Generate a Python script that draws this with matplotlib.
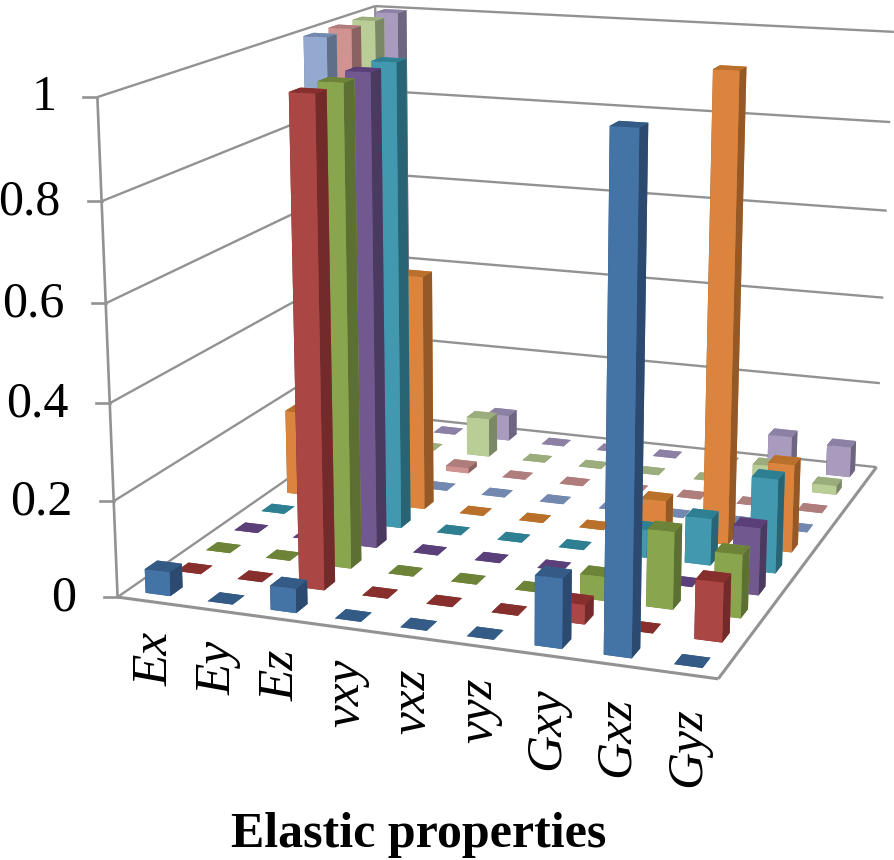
import numpy as np
import matplotlib
matplotlib.use("Agg")
import matplotlib.pyplot as plt
from matplotlib.lines import Line2D
from mpl_toolkits.mplot3d import Axes3D  # noqa
from mpl_toolkits.mplot3d.art3d import Line3DCollection

W_PX, H_PX = 895, 860

categories = ["Ex", "Ey", "Ez", "vxy", "vxz", "vyz", "Gxy", "Gxz", "Gyz"]
z_ticks = [0, 0.2, 0.4, 0.6, 0.8, 1]
z_tick_labels = ["0", "0.2", "0.4", "0.6", "0.8", "1"]
x_title = "Elastic properties"

# one list per series, front row to back row
s_blue = [0.05, 0, 0.05, 0, 0, 0, 0.14, 1.0, 0]
s_red = [0, 0, 1.0, 0, 0, 0, 0.04, 0, 0.12]
s_green = [0, 0, 1.0, 0, 0, 0, 0.05, 0.16, 0.13]
s_purple = [0, 0, 1.0, 0, 0, 0, 0, 0, 0.14]
s_teal = [0, 0, 1.0, 0, 0, 0, 0.06, 0.1, 0.2]
s_orange = [0.19, 0, 0.52, 0, 0, 0, 0.08, 1.0, 0.19]
s_lblue = [1.0, 0, 0, 0, 0, 0, 0, 0, 0]
s_pink = [1.0, 0, 0.012, 0, 0, 0, 0, 0, 0]
s_lgreen = [1.0, 0, 0.09, 0, 0, 0, 0, 0.05, 0.02]
s_lpurple = [1.0, 0, 0.06, 0, 0, 0, 0, 0.08, 0.07]
series = [s_blue, s_red, s_green, s_purple, s_teal, s_orange,
          s_lblue, s_pink, s_lgreen, s_lpurple]

front_cols = ["#4473A6", "#AA4643", "#89A54E", "#71588F", "#4198AF",
              "#DB843D", "#93A9CF", "#D19392", "#B9CD96", "#A99BBD"]
top_cols = ["#345A86", "#862F2D", "#6C8338", "#5A3F78", "#2F7F92",
            "#B8702A", "#7288AE", "#AF7D7C", "#9BAC7D", "#8C80A5"]
side_cols = ["#2C4A70", "#722B2A", "#5C7034", "#4A3A60", "#286473",
             "#945926", "#5F6F8A", "#8B6262", "#7A8866", "#6E6680"]

GRID = "#929292"
BAR = 0.4

# ---- camera: pinhole matrix fitted to where the box corners sit in the picture
nx, ny = len(categories), len(series)
calib = [
    ((0, 0, 0), (118, 597)), ((nx, 0, 0), (719, 678)),
    ((nx, ny, 0), (876, 468)), ((0, ny, 0), (381, 414)),
    ((0, 0, 1), (99, 98)), ((0, ny, 1), (375, 6)), ((nx, ny, 1), (894, 31)),
    ((nx, ny, 0.8), (890, 122)), ((nx, ny, 0.6), (887, 211)), ((nx, ny, 0.4), (883, 298)),
    ((0, 0, 0.8), (101, 202)), ((0, 0, 0.6), (105, 302)), ((0, 0, 0.4), (109, 403)),
    ((0, 0, 0.2), (113, 502)),
]
A, b = [], []
for (x, y, z), (u, v) in calib:
    v = H_PX - v
    A.append([x, y, z, 1, 0, 0, 0, 0, -u * x, -u * y, -u * z])
    A.append([0, 0, 0, 0, x, y, z, 1, -v * x, -v * y, -v * z])
    b += [u, v]
p = np.linalg.lstsq(np.array(A, float), np.array(b, float), rcond=None)[0]
M = np.array([[p[0], p[1], p[2], p[3]],
              [p[4], p[5], p[6], p[7]],
              [0, 0, 0, -1.0],
              [p[8], p[9], p[10], 1.0]])


def to_px(x, y, z):
    h = M @ np.array([x, y, z, 1.0])
    return h[0] / h[3], h[1] / h[3]


fig = plt.figure(figsize=(W_PX / 100, H_PX / 100), dpi=100, facecolor="white")
ax = fig.add_axes([0, 0, 1, 1], projection="3d")
ax.get_proj = lambda: M
ax.apply_aspect = lambda position=None: None
ax.computed_zorder = False
ax.set_xticks([])
ax.set_yticks([])
ax.set_zticks([])
ax.set_axis_off()
ax.patch.set_visible(False)

# walls
wall_segments = []
for z in z_ticks:
    wall_segments.append([(0, 0, z), (0, ny, z)])
    wall_segments.append([(0, ny, z), (nx, ny, z)])
wall_segments.append([(0, ny, 0), (0, ny, 1)])
ax.add_collection3d(Line3DCollection(wall_segments, colors=GRID, linewidths=1.7, zorder=1))
ax.add_collection3d(Line3DCollection([[(0, 0, 0), (0, 0, 1)]], colors=GRID,
                                     linewidths=1.9, zorder=1.5))
ax.add_collection3d(Line3DCollection([[(0, 0, 0), (nx, 0, 0)], [(nx, 0, 0), (nx, ny, 0)]],
                                     colors=GRID, linewidths=2.2, zorder=2))

# bars, painted back to front
order = 10
for j in range(ny - 1, -1, -1):
    for i in range(nx):
        t, f, s = top_cols[j], front_cols[j], side_cols[j]
        ax.bar3d(i + (1 - BAR) / 2, j + (1 - BAR) / 2, 0, BAR, BAR, series[j][i],
                 color=[t, t, f, f, s, s], shade=False, edgecolor="none",
                 zorder=order)
        order += 1

# ticks and value labels
for z, lab in zip(z_ticks, z_tick_labels):
    u, v = to_px(0, 0, z)
    fig.add_artist(Line2D([(u - 14) / W_PX, u / W_PX], [v / H_PX, v / H_PX],
                          transform=fig.transFigure, color=GRID, lw=1.9))
    fig.text((u - 41) / W_PX, (v - 1) / H_PX, lab, ha="right", va="center",
             family="Liberation Serif", fontsize=36, color="black")

# category labels
for i, c in enumerate(categories):
    u, v = to_px(i + 0.5, 0, -0.065)
    fig.text((u + 6) / W_PX, v / H_PX, c, ha="center", va="top", rotation=90,
             family="Liberation Serif", style="italic", fontsize=37, color="black")

fig.text(419 / W_PX, 1 - 847 / H_PX, x_title, ha="center", va="baseline",
         family="Liberation Serif", weight="bold", fontsize=36, color="black")

_orig_draw = ax.draw


def _draw(renderer):
    ax.viewLim.intervalx = (0, W_PX)
    ax.viewLim.intervaly = (0, H_PX)
    _orig_draw(renderer)


ax.viewLim.intervalx = (0, W_PX)
ax.viewLim.intervaly = (0, H_PX)
ax.draw = _draw
fig.savefig("out.png", dpi=100)
